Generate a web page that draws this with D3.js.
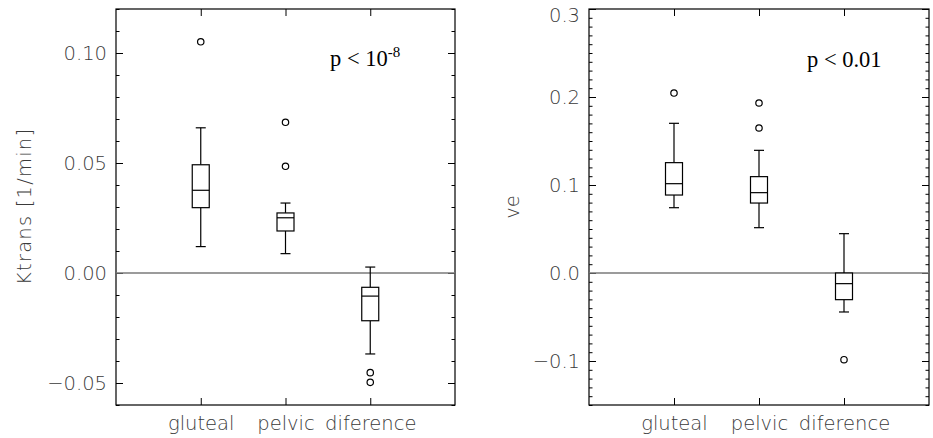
<!DOCTYPE html>
<html>
<head>
<meta charset="utf-8">
<script src="https://cdn.jsdelivr.net/npm/d3@7"></script>
<style>
  html, body { margin: 0; padding: 0; background: #fff; }
  svg { display: block; }
</style>
</head>
<body>
<svg id="chart" width="933" height="438"></svg>
<script>
// ---------- DATA ----------
const categories = ["gluteal", "pelvic", "diference"];

// Ktrans [1/min] box statistics
const ktransLow      = [0.0120, 0.0088, -0.0368];
const ktransQ1       = [0.0297, 0.0191, -0.0217];
const ktransMedian   = [0.0376, 0.0251, -0.0105];
const ktransQ3       = [0.0492, 0.0273, -0.0065];
const ktransHigh     = [0.0660, 0.0318, 0.0027];
const ktransOutliers = [[0.1051], [0.0485, 0.0685], [-0.0453, -0.0497]];
const ktransTicks    = [-0.05, 0.00, 0.05, 0.10];
const ktransTitle    = "Ktrans [1/min]";

// ve box statistics
const veLow      = [0.0742, 0.0515, -0.0443];
const veQ1       = [0.0886, 0.0795, -0.0303];
const veMedian   = [0.1015, 0.0913, -0.0121];
const veQ3       = [0.1254, 0.1095, 0.0000];
const veHigh     = [0.1701, 0.1394, 0.0447];
const veOutliers = [[0.2045], [0.1648, 0.1932], [-0.0985]];
const veTicks    = [-0.1, 0.0, 0.1, 0.2, 0.3];
const veTitle    = "ve";

// ---------- DRAW ----------
const svg = d3.select("#chart");
const labelFont = "'DejaVu Sans', 'Liberation Sans', sans-serif";
const labelColor = "#3a3a3a";

function drawPanel(cfg) {
  const g = svg.append("g");
  const x = d3.scalePoint().domain(categories).range([cfg.x0, cfg.x1]).padding(1);
  const y = d3.scaleLinear().domain(cfg.domain).range([cfg.y1, cfg.y0]);

  const minor = d3.range(Math.ceil(cfg.domain[0] / cfg.minorStep - 1e-9), Math.floor(cfg.domain[1] / cfg.minorStep + 1e-9) + 1)
    .map(i => +(i * cfg.minorStep).toFixed(6));

  function styleAxis(sel) {
    sel.select(".domain").remove();
    sel.selectAll(".tick line").attr("stroke", "#000").attr("stroke-width", 1);
  }

  // left minor ticks (inward)
  g.append("g").attr("transform", `translate(${cfg.x0},0)`)
    .call(d3.axisRight(y).tickValues(minor).tickSize(3.5).tickFormat(""))
    .call(styleAxis);
  // right minor ticks (inward)
  g.append("g").attr("transform", `translate(${cfg.x1},0)`)
    .call(d3.axisLeft(y).tickValues(minor).tickSize(3.5).tickFormat(""))
    .call(styleAxis);
  // right major ticks
  g.append("g").attr("transform", `translate(${cfg.x1},0)`)
    .call(d3.axisLeft(y).tickValues(cfg.ticks).tickSize(7).tickFormat(""))
    .call(styleAxis);
  // left major ticks + labels
  const yAx = g.append("g").attr("transform", `translate(${cfg.x0},0)`)
    .call(d3.axisLeft(y).tickValues(cfg.ticks).tickSizeInner(-7).tickSizeOuter(0).tickPadding(9).tickFormat(cfg.fmt))
    .call(styleAxis);
  yAx.selectAll(".tick text")
    .attr("font-family", labelFont)
    .attr("font-size", 19.5)
    .attr("font-weight", 300)
    .attr("fill", labelColor)
    // a label sitting on the top edge is nudged down so it stays inside the page
    .attr("y", d => (y(d) - cfg.y0 < 8 ? 6 : 0));

  // bottom ticks + category labels
  const xAx = g.append("g").attr("transform", `translate(0,${cfg.y1})`)
    .call(d3.axisBottom(x).tickSizeInner(-7).tickSizeOuter(0).tickPadding(11))
    .call(styleAxis);
  xAx.selectAll(".tick text")
    .attr("font-family", labelFont)
    .attr("font-size", 19.5)
    .attr("font-weight", 300)
    .attr("fill", labelColor);
  // top ticks
  g.append("g").attr("transform", `translate(0,${cfg.y0})`)
    .call(d3.axisTop(x).tickSizeInner(-7).tickSizeOuter(0).tickFormat(""))
    .call(styleAxis);

  // frame
  g.append("rect")
    .attr("x", cfg.x0).attr("y", cfg.y0)
    .attr("width", cfg.x1 - cfg.x0).attr("height", cfg.y1 - cfg.y0)
    .attr("fill", "none").attr("stroke", "#000").attr("stroke-width", 1.2);

  // zero line
  g.append("line")
    .attr("x1", cfg.x0).attr("x2", cfg.x1)
    .attr("y1", y(0)).attr("y2", y(0))
    .attr("stroke", "#7a7a7a").attr("stroke-width", 1.6);

  // boxes
  const boxW = 17, capW = 10;
  const rows = categories.map((c, i) => ({
    c, low: cfg.low[i], q1: cfg.q1[i], med: cfg.med[i], q3: cfg.q3[i], high: cfg.high[i], out: cfg.out[i]
  }));
  const bg = g.selectAll("g.box").data(rows).join("g").attr("class", "box");
  const stroke = s => s.attr("stroke", "#000").attr("stroke-width", 1.2).attr("fill", "none");
  bg.append("line").attr("x1", d => x(d.c)).attr("x2", d => x(d.c))
    .attr("y1", d => y(d.high)).attr("y2", d => y(d.q3)).call(stroke);
  bg.append("line").attr("x1", d => x(d.c)).attr("x2", d => x(d.c))
    .attr("y1", d => y(d.q1)).attr("y2", d => y(d.low)).call(stroke);
  bg.append("line").attr("x1", d => x(d.c) - capW / 2).attr("x2", d => x(d.c) + capW / 2)
    .attr("y1", d => y(d.high)).attr("y2", d => y(d.high)).call(stroke);
  bg.append("line").attr("x1", d => x(d.c) - capW / 2).attr("x2", d => x(d.c) + capW / 2)
    .attr("y1", d => y(d.low)).attr("y2", d => y(d.low)).call(stroke);
  bg.append("rect").attr("x", d => x(d.c) - boxW / 2).attr("width", boxW)
    .attr("y", d => y(d.q3)).attr("height", d => y(d.q1) - y(d.q3))
    .attr("fill", "#fff").attr("stroke", "#000").attr("stroke-width", 1.2);
  bg.append("line").attr("x1", d => x(d.c) - boxW / 2).attr("x2", d => x(d.c) + boxW / 2)
    .attr("y1", d => y(d.med)).attr("y2", d => y(d.med)).call(stroke);
  bg.selectAll("circle").data(d => d.out.map(v => ({ c: d.c, v }))).join("circle")
    .attr("cx", d => x(d.c)).attr("cy", d => y(d.v)).attr("r", 3.2).call(stroke);

  // y-axis title
  g.append("text")
    .attr("transform", `translate(${cfg.titleX},${(cfg.y0 + cfg.y1) / 2}) rotate(-90)`)
    .attr("text-anchor", "middle").attr("dominant-baseline", "central")
    .attr("font-family", labelFont).attr("font-size", 19.5).attr("font-weight", 300)
    .attr("fill", labelColor)
    .call(t => { if (cfg.titleLen) t.attr("textLength", cfg.titleLen).attr("lengthAdjust", "spacing"); })
    .text(cfg.title);

  // p-value annotation
  const p = g.append("text")
    .attr("x", cfg.px).attr("y", cfg.py)
    .attr("font-family", "'Liberation Serif', 'Times New Roman', serif")
    .attr("font-size", 22.5).attr("fill", "#000");
  p.append("tspan").text(cfg.pMain);
  if (cfg.pSup) {
    p.append("tspan").attr("font-size", 15).attr("dy", -9).text(cfg.pSup);
  }
}

drawPanel({
  x0: 116, x1: 455, y0: 9, y1: 405,
  domain: [-0.06, 0.12], ticks: ktransTicks, minorStep: 0.01, fmt: d3.format(".2f"),
  low: ktransLow, q1: ktransQ1, med: ktransMedian, q3: ktransQ3, high: ktransHigh, out: ktransOutliers,
  title: ktransTitle, titleX: 24, titleLen: 156,
  px: 330, py: 66, pMain: "p < 10", pSup: "-8"
});

drawPanel({
  x0: 589, x1: 929, y0: 9, y1: 405,
  domain: [-0.15, 0.30], ticks: veTicks, minorStep: 0.01, fmt: d3.format(".1f"),
  low: veLow, q1: veQ1, med: veMedian, q3: veQ3, high: veHigh, out: veOutliers,
  title: veTitle, titleX: 512, titleLen: null,
  px: 807, py: 67, pMain: "p < 0.01", pSup: null
});
</script>
</body>
</html>
